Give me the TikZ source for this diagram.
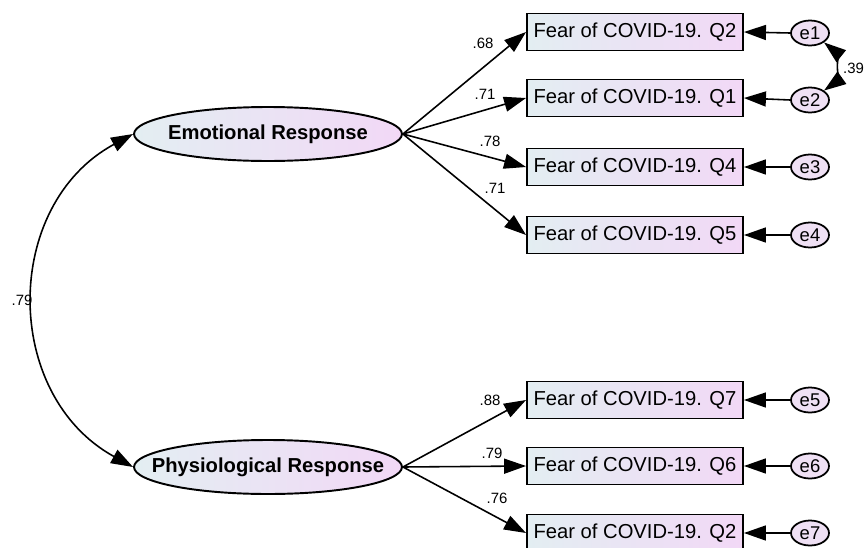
\documentclass[tikz,border=0pt]{standalone}
\usepackage{fontspec}
\setmainfont{Liberation Sans}
\usepackage{tikz}
\usetikzlibrary{arrows.meta,shapes.geometric}
\definecolor{lblue}{HTML}{E3EEF2}
\definecolor{lpink}{HTML}{F2D8F6}
\definecolor{epink}{HTML}{EFE0F4}
\tikzset{%
  >={Triangle[length=4.4mm,width=3mm]},
  lat/.style = {ellipse, draw, line width=1.1pt, left color=lblue, right color=lpink,
    minimum width=5.36cm, minimum height=1.08cm, inner xsep=-1.6cm, inner ysep=0pt,
    font=\bfseries\fontsize{11.5}{13}\selectfont},
  obs/.style = {rectangle, draw, line width=1.1pt, left color=lblue, right color=lpink,
    minimum width=4.32cm, minimum height=0.74cm, inner sep=0pt,
    font=\fontsize{11.5}{13}\selectfont},
  err/.style = {ellipse, draw, line width=1pt, fill=epink, minimum width=0.76cm,
    minimum height=0.5cm, inner sep=0pt, font=\fontsize{10.5}{12}\selectfont},
  arr/.style = {draw, line width=0.9pt, ->},
  wt/.style  = {inner sep=1pt, font=\fontsize{8.5}{10}\selectfont}
}
\begin{document}
\begin{tikzpicture}[x=0.02cm,y=-0.02cm]
\useasboundingbox (0,0) rectangle (866,548);
\clip (0,0) rectangle (866,548);
% latent factors
\node[lat] (emo) at (268,134) {Emotional Response};
\node[lat] (phy) at (268,467) {Physiological Response};
% items
\node[obs] (q2)  at (635,32)  {Fear of COVID-19. Q2};
\node[obs] (q1)  at (635,98)  {Fear of COVID-19. Q1};
\node[obs] (q4)  at (635,167) {Fear of COVID-19. Q4};
\node[obs] (q5)  at (635,235) {Fear of COVID-19. Q5};
\node[obs] (q7)  at (635,400) {Fear of COVID-19. Q7};
\node[obs] (q6)  at (635,466) {Fear of COVID-19. Q6};
\node[obs] (q2b) at (635,533) {Fear of COVID-19. Q2};
% errors
\node[err] (e1) at (810,33)  {e1};
\node[err] (e2) at (810,100) {e2};
\node[err] (e3) at (810,167) {e3};
\node[err] (e4) at (810,235) {e4};
\node[err] (e5) at (810,400) {e5};
\node[err] (e6) at (810,466) {e6};
\node[err] (e7) at (810,533) {e7};
% loadings
\path[arr] (emo.east) -- (q2.west);
\path[arr] (emo.east) -- (q1.west);
\path[arr] (emo.east) -- (q4.west);
\path[arr] (emo.east) -- (q5.west);
\path[arr] (phy.east) -- (q7.west);
\path[arr] (phy.east) -- (q6.west);
\path[arr] (phy.east) -- (q2b.west);
\node[wt] (w1) at (483,43)  {.68};
\node[wt] (w2) at (485,94)  {.71};
\node[wt] (w3) at (490,141) {.78};
\node[wt] (w4) at (495,188) {.71};
\node[wt] (w5) at (490,400) {.88};
\node[wt] (w6) at (492,453) {.79};
\node[wt] (w7) at (497,498) {.76};
% error terms
\path[arr] (e1.west) -- (q2.east);
\path[arr] (e2.west) -- (q1.east);
\path[arr] (e3.west) -- (q4.east);
\path[arr] (e4.west) -- (q5.east);
\path[arr] (e5.west) -- (q7.east);
\path[arr] (e6.west) -- (q6.east);
\path[arr] (e7.west) -- (q2b.east);
% covariances
\path[arr,<->] (emo.west) .. controls (2,205) and (2,395) .. (phy.west);
\node[wt] (c1) at (22,300) {.79};
\path[arr,<->] (e1.south east) .. controls (836,52) and (836,82) .. (e2.north east);
\node[wt,anchor=east] (c2) at (866,68) {.39};
\end{tikzpicture}
\end{document}
